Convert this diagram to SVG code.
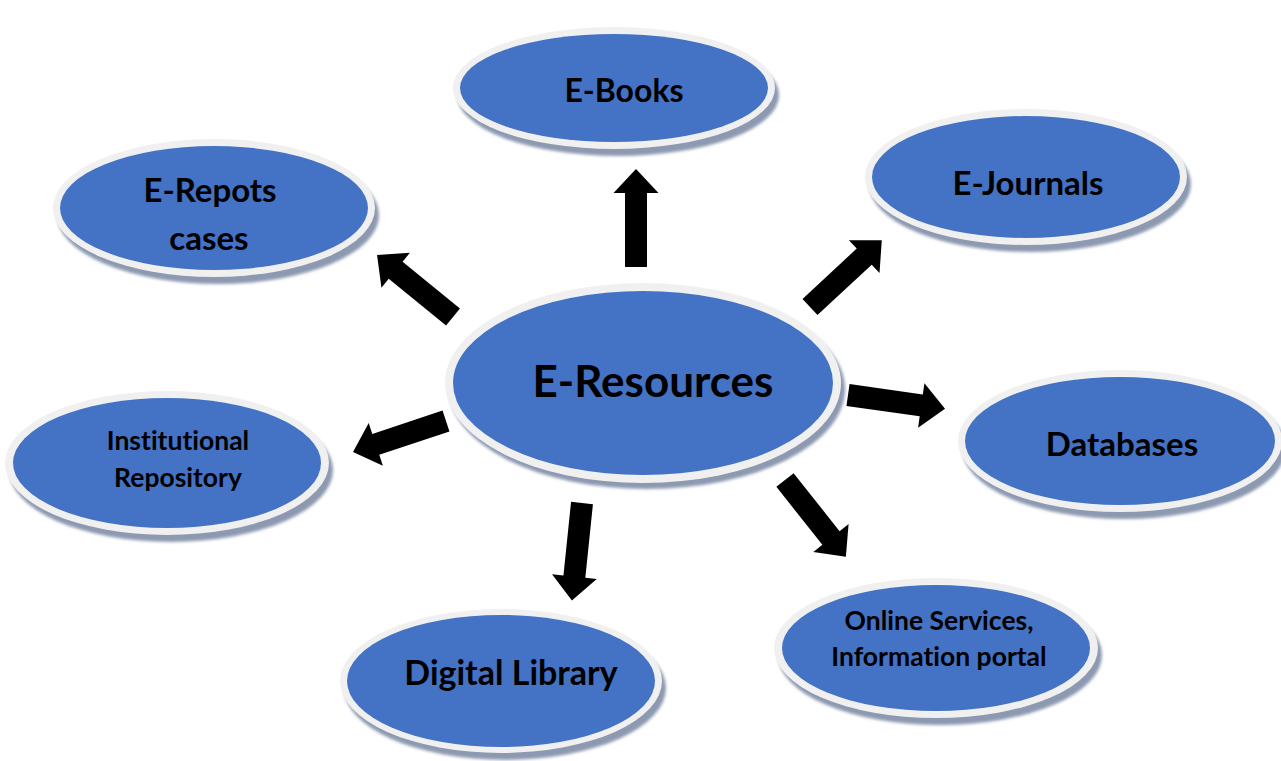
<svg xmlns="http://www.w3.org/2000/svg" width="1281" height="761" viewBox="0 0 1281 761">
<style>
.shadow{fill:#8c99b0;filter:url(#blur)}
.ring{fill:#f0f0f0}
.core{fill:#4472c4}
.lbl{font-family:Lato,"Open Sans",sans-serif;font-weight:700;fill:#000;text-anchor:middle;font-variant-ligatures:none}
.arrow{fill:#000}
</style>
<defs>
<filter id="blur" x="-10%" y="-10%" width="120%" height="120%"><feGaussianBlur stdDeviation="1.5"/></filter>
<path id="arr" d="M0,-11 L74,-11 L74,-22.5 L98,0 L74,22.5 L74,11 L0,11 Z"/>
</defs>
<rect width="1281" height="761" fill="#fff"/>
<g id="connectors" class="arrow">
<use href="#arr" transform="translate(636,267) rotate(-90)"/>
<use href="#arr" transform="translate(582,503) rotate(95.9)"/>
<use href="#arr" transform="translate(453,317) rotate(-140.8)"/>
<use href="#arr" transform="translate(446,421) rotate(161.6)"/>
<use href="#arr" transform="translate(810,307) rotate(-42.9)"/>
<use href="#arr" transform="translate(848,395) rotate(8.1)"/>
<use href="#arr" transform="translate(785,480) rotate(51.6)"/>
</g>
<g id="e-resources">
<ellipse class="shadow" cx="647" cy="389" rx="198" ry="100"/>
<ellipse class="ring" cx="643" cy="383" rx="198" ry="100"/>
<ellipse class="core" cx="643" cy="383" rx="190" ry="92"/>
<text class="lbl" x="653" y="397" font-size="44">E-Resources</text>
</g>
<g id="e-books">
<ellipse class="shadow" cx="618" cy="95" rx="161" ry="61"/>
<ellipse class="ring" cx="614" cy="88" rx="161" ry="61"/>
<ellipse class="core" cx="614" cy="88" rx="154" ry="54"/>
<text class="lbl" x="624" y="102" font-size="32">E-Books</text>
</g>
<g id="e-journals">
<ellipse class="shadow" cx="1030" cy="184" rx="161" ry="68"/>
<ellipse class="ring" cx="1026" cy="177" rx="161" ry="68"/>
<ellipse class="core" cx="1026" cy="177" rx="154" ry="61"/>
<text class="lbl" x="1028" y="195" font-size="33">E-Journals</text>
</g>
<g id="e-repots">
<ellipse class="shadow" cx="218" cy="215" rx="161" ry="69"/>
<ellipse class="ring" cx="214" cy="208" rx="161" ry="69"/>
<ellipse class="core" cx="214" cy="208" rx="154" ry="62"/>
<text class="lbl" x="210" y="202" font-size="33">E-Repots</text>
<text class="lbl" x="209" y="250" font-size="33">cases</text>
</g>
<g id="institutional-repository">
<ellipse class="shadow" cx="171" cy="470" rx="162" ry="72"/>
<ellipse class="ring" cx="167" cy="463" rx="162" ry="72"/>
<ellipse class="core" cx="167" cy="463" rx="154" ry="65"/>
<text class="lbl" x="178" y="450" font-size="26.5">Institutional</text>
<text class="lbl" x="178" y="487" font-size="26.5">Repository</text>
</g>
<g id="databases">
<ellipse class="shadow" cx="1124" cy="448" rx="162" ry="71"/>
<ellipse class="ring" cx="1120" cy="441" rx="162" ry="71"/>
<ellipse class="core" cx="1120" cy="441" rx="155" ry="64"/>
<text class="lbl" x="1122" y="456" font-size="33">Databases</text>
</g>
<g id="digital-library">
<ellipse class="shadow" cx="505" cy="688" rx="161" ry="72"/>
<ellipse class="ring" cx="501" cy="681" rx="161" ry="72"/>
<ellipse class="core" cx="501" cy="681" rx="154" ry="66"/>
<text class="lbl" x="511" y="685" font-size="34">Digital Library</text>
</g>
<g id="online-services">
<ellipse class="shadow" cx="940" cy="655" rx="162" ry="70"/>
<ellipse class="ring" cx="936" cy="648" rx="162" ry="70"/>
<ellipse class="core" cx="936" cy="648" rx="154" ry="63"/>
<text class="lbl" x="939" y="630" font-size="26.5">Online Services,</text>
<text class="lbl" x="939" y="666" font-size="26.5">Information portal</text>
</g>
</svg>
